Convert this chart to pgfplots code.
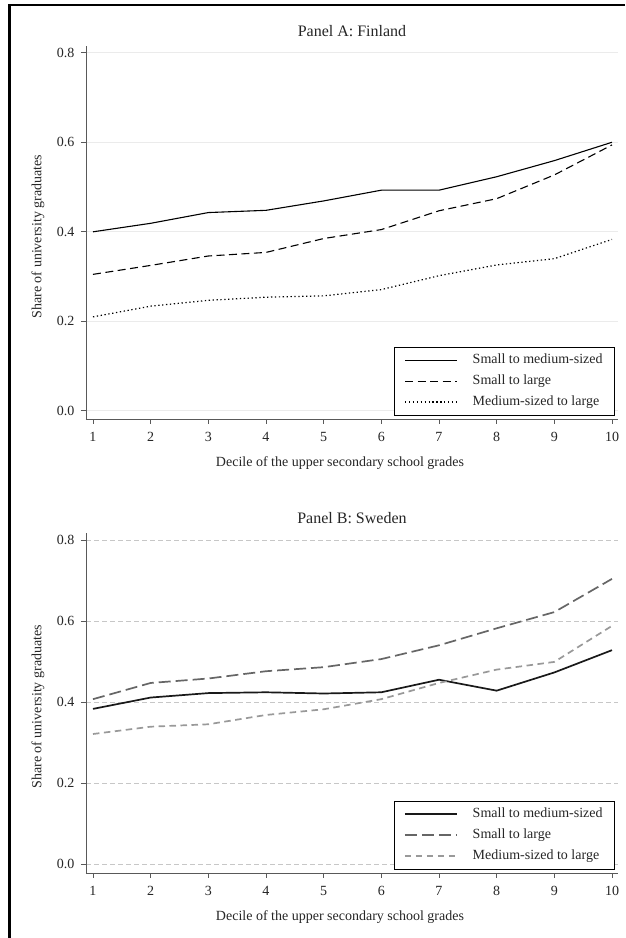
\documentclass[border=0pt]{standalone}
\usepackage{fontspec}
\setmainfont{Liberation Serif}
\usepackage{pgfplots}
\pgfplotsset{compat=1.18}
\definecolor{axgray}{gray}{0.35}
\definecolor{darkg}{gray}{0.40}
\definecolor{lightg}{gray}{0.60}
\pgfplotsset{
  common/.style={
    scale only axis, width=532pt,
    xmin=0.879, xmax=10.104,
    xtick={1,2,3,4,5,6,7,8,9,10},
    ytick={0,0.2,0.4,0.6,0.8},
    yticklabel style={xshift=-3pt, /pgf/number format/.cd, fixed, fixed zerofill, precision=1},
    /pgf/number format/assume math mode=true,
    axis x line*=bottom, axis y line*=left,
    axis line style={-, draw=axgray, line width=0.9pt},
    tick align=outside, major tick length=5pt,
    tick style={draw=axgray, line width=0.9pt},
    tick label style={font=\fontsize{14}{14}\selectfont, text=black!85},
    xticklabel style={yshift=-4.5pt},
    xlabel={Decile of the upper secondary school grades},
    ylabel={Share of university graduates},
    every axis x label/.style={at={(axis description cs:0.5,0)}, anchor=center, yshift=-44pt, xshift=-12pt},
    every axis y label/.style={at={(axis description cs:-0.0902,0.489)}, anchor=center, rotate=90},
    label style={font=\fontsize{14}{14}\selectfont, text=black!85},
    title style={font=\fontsize{16}{16}\selectfont, text=black!85},
    legend cell align=left,
    legend style={at={(1,0)}, anchor=south east, xshift=-3pt, yshift=3.5pt,
      draw=black, line width=0.8pt, fill=white,
      font=\fontsize{14}{14}\selectfont, inner xsep=10pt, inner ysep=3pt,
      nodes={text height=10pt, text depth=3pt, inner ysep=3.5pt, text=black!85},
      /tikz/every odd column/.append style={column sep=13pt},
      row sep=1pt},
  }
}
\begin{document}
\begin{tikzpicture}
\useasboundingbox (0,0) rectangle (625pt,938pt);
\fill[white] (0,0) rectangle (625pt,938pt);
\draw[line width=2.5pt] (9.5pt,0pt) -- (9.5pt,933pt) -- (625pt,933pt);

% Panel A
\begin{axis}[common,
  at={(86pt,519pt)}, anchor=south west, height=373pt,
  ymin=-0.018, ymax=0.815,
  ymajorgrids, major grid style={draw=black!8, line width=0.9pt},
  title={Panel A: Finland},
  legend image code/.code={\draw[#1] (0pt,0pt) -- (52pt,0pt);},
]
\addplot[black, line width=1.1pt] coordinates {
(1,0.400) (2,0.419) (3,0.443) (4,0.448) (5,0.469) (6,0.493) (7,0.493) (8,0.523) (9,0.559) (10,0.600)};
\addlegendentry{Small to medium-sized}
\addplot[black, line width=1.1pt, dash pattern=on 8pt off 4.5pt] coordinates {
(1,0.305) (2,0.325) (3,0.346) (4,0.354) (5,0.385) (6,0.405) (7,0.447) (8,0.474) (9,0.527) (10,0.594)};
\addlegendentry{Small to large}
\addplot[black, line width=1.2pt, dash pattern=on 1.3pt off 2.6pt] coordinates {
(1,0.210) (2,0.234) (3,0.247) (4,0.254) (5,0.257) (6,0.271) (7,0.302) (8,0.326) (9,0.340) (10,0.383)};
\addlegendentry{Medium-sized to large}
\end{axis}

% Panel B
\begin{axis}[common,
  at={(86pt,65pt)}, anchor=south west, height=340pt,
  ymin=-0.0222, ymax=0.8173,
  ymajorgrids, major grid style={draw=black!22, line width=0.8pt, dash pattern=on 5pt off 3pt},
  title={Panel B: Sweden},
  legend image code/.code={\draw[#1] (0pt,0pt) -- (52pt,0pt);},
]
\addplot[black!90, line width=1.7pt] coordinates {
(1,0.383) (2,0.411) (3,0.422) (4,0.424) (5,0.421) (6,0.424) (7,0.455) (8,0.428) (9,0.473) (10,0.528)};
\addlegendentry{Small to medium-sized}
\addplot[darkg, line width=1.7pt, dash pattern=on 12pt off 5pt] coordinates {
(1,0.407) (2,0.447) (3,0.458) (4,0.476) (5,0.486) (6,0.506) (7,0.540) (8,0.582) (9,0.622) (10,0.704)};
\addlegendentry{Small to large}
\addplot[lightg, line width=1.7pt, dash pattern=on 6.5pt off 4.5pt] coordinates {
(1,0.321) (2,0.339) (3,0.345) (4,0.368) (5,0.382) (6,0.407) (7,0.447) (8,0.480) (9,0.499) (10,0.588)};
\addlegendentry{Medium-sized to large}
\end{axis}
\end{tikzpicture}
\end{document}
